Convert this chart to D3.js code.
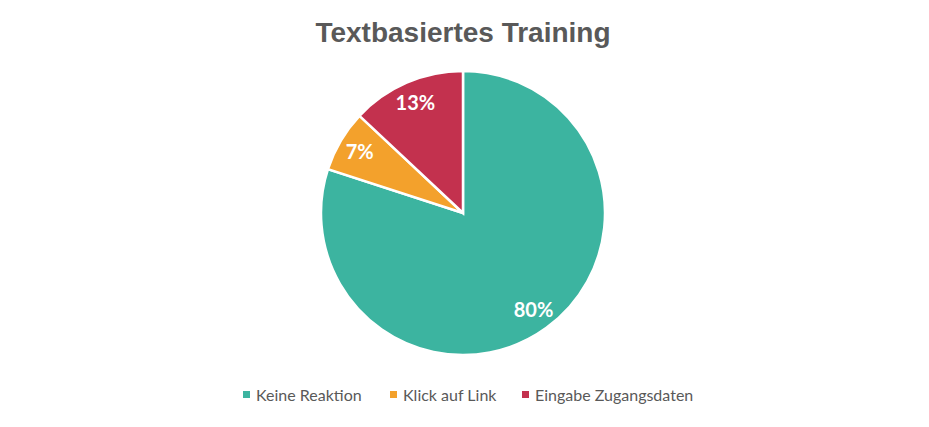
<!DOCTYPE html>
<html>
<head>
<meta charset="utf-8">
<script src="https://cdn.jsdelivr.net/npm/d3@7"></script>
<style>
  body { margin: 0; background: #fff; }
</style>
</head>
<body>
<div id="chart"></div>
<script>
const categories = ['Keine Reaktion', 'Klick auf Link', 'Eingabe Zugangsdaten'];
const values = [80, 7, 13];
const colors = ['#3cb4a0', '#f3a12c', '#c3314e'];
const title = 'Textbasiertes Training';

const width = 929, height = 427;
const cx = 463, cy = 213, radius = 142;

const svg = d3.select('#chart').append('svg')
    .attr('width', width)
    .attr('height', height);

svg.append('text')
    .attr('x', cx)
    .attr('y', 42)
    .attr('text-anchor', 'middle')
    .style('font-family', '"Liberation Sans", Arial, sans-serif')
    .style('font-weight', 'bold')
    .style('font-size', '28px')
    .style('fill', '#595959')
    .text(title);

const data = categories.map((c, i) => ({ name: c, value: values[i], color: colors[i] }));

const pie = d3.pie().sort(null).value(d => d.value);
const arc = d3.arc().innerRadius(0).outerRadius(radius);
const labelArc = d3.arc().innerRadius(120).outerRadius(120);

const g = svg.append('g').attr('transform', `translate(${cx},${cy})`);
const arcs = pie(data);

g.selectAll('path')
    .data(arcs)
    .join('path')
    .attr('d', arc)
    .attr('fill', d => d.data.color)
    .attr('stroke', '#fff')
    .attr('stroke-width', 2.5);

const total = d3.sum(values);
g.selectAll('text')
    .data(arcs)
    .join('text')
    .attr('transform', d => `translate(${labelArc.centroid(d)})`)
    .attr('text-anchor', 'middle')
    .attr('dy', '0.35em')
    .style('font-family', 'Lato, "Open Sans", sans-serif')
    .style('font-weight', 'bold')
    .style('font-size', '20px')
    .style('fill', '#fff')
    .text(d => Math.round(d.data.value / total * 100) + '%');

// legend
const legendX = [243, 390, 522];
const legend = svg.append('g').attr('transform', 'translate(0,395)');
const items = legend.selectAll('g')
    .data(data)
    .join('g')
    .attr('transform', (d, i) => `translate(${legendX[i]},0)`);

items.append('rect')
    .attr('x', 0)
    .attr('y', -4)
    .attr('width', 7)
    .attr('height', 7)
    .attr('fill', d => d.color);

items.append('text')
    .attr('x', 13)
    .attr('dy', '0.35em')
    .style('font-family', 'Lato, "Open Sans", sans-serif')
    .style('font-size', '16px')
    .style('fill', '#595959')
    .text(d => d.name);
</script>
</body>
</html>
